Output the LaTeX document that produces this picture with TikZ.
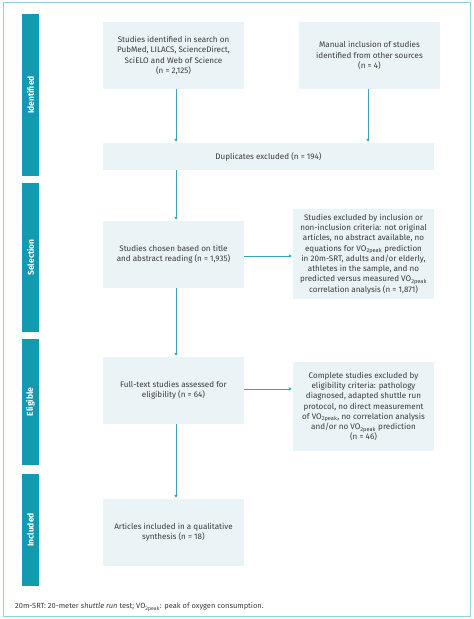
\documentclass[tikz,border=0pt]{standalone}
\usepackage{fontspec}
\setmainfont{Fira Sans}
\usetikzlibrary{arrows.meta}
\definecolor{barteal}{HTML}{1399B0}
\definecolor{frameteal}{HTML}{8CD2D8}
\definecolor{boxfill}{HTML}{EAF4F7}
\definecolor{arrowteal}{HTML}{3AA6B4}
\definecolor{txt}{HTML}{3A3A3A}
\begin{document}
\begin{tikzpicture}[x=1bp,y=-1bp,
  box/.style={fill=boxfill, draw=none, minimum width=141bp, align=center, inner sep=0pt, font=\fontsize{8.1}{10.3}\selectfont, text=txt},
  bar/.style={fill=barteal, draw=none, rotate=90, minimum height=17bp, inner sep=0pt, text=white, font=\fontsize{8.5}{9}\selectfont\bfseries},
  arr/.style={draw=arrowteal, line width=0.8bp, -{Triangle[width=3.2bp,length=3bp]}, shorten >=1bp}]
\useasboundingbox (0,0) rectangle (474,619);
\draw[frameteal, line width=1bp] (3,3) rectangle (470,616);
% phase bars
\node[bar, minimum width=162bp] (bid) at (30.5,95) {Identified};
\node[bar, minimum width=149bp] (bsel) at (30.5,257.5) {Selection};
\node[bar, minimum width=126bp] (belig) at (30.5,402) {Eligible};
\node[bar, minimum width=112bp] (binc) at (30.5,530) {Included};
% boxes
\node[box, minimum height=67bp] (b1) at (173.5,55.5) {Studies identified in search on\\PubMed, LILACS, ScienceDirect,\\SciELO and Web of Science\\(n = 2,125)};
\node[box, minimum height=67bp] (b2) at (369.5,55.5) {Manual inclusion of studies\\identified from other sources\\(n = 4)};
\node[box, minimum width=331bp, minimum height=27bp] (dup) at (268.5,156.5) {Duplicates excluded (n = 194)};
\node[box, minimum height=67bp] (sel) at (173.5,254.5) {Studies chosen based on title\\and abstract reading (n = 1,935)};
\node[box, minimum height=90bp] (ex1) at (363.5,254) {Studies excluded by inclusion or\\non-inclusion criteria: not original\\articles, no abstract available, no\\equations for VO\textsubscript{2peak} prediction\\in 20m-SRT, adults and/or elderly,\\athletes in the sample, and no\\predicted versus measured VO\textsubscript{2peak}\\correlation analysis (n = 1,871)};
\node[box, minimum height=67bp] (elig) at (173.5,390.5) {Full-text studies assessed for\\eligibility (n = 64)};
\node[box, minimum height=89bp] (ex2) at (363.5,406.5) {Complete studies excluded by\\eligibility criteria: pathology\\diagnosed, adapted shuttle run\\protocol, no direct measurement\\of VO\textsubscript{2peak}, no correlation analysis\\and/or no VO\textsubscript{2peak} prediction\\(n = 46)};
\node[box, minimum height=67bp] (inc) at (173.5,532.5) {Articles included in a qualitative\\synthesis (n = 18)};
% arrows
\draw[arr] ([xshift=2.5bp]b1.south) -- ([xshift=2.5bp]b1.south |- dup.north);
\draw[arr] ([xshift=-1.5bp]b2.south) -- ([xshift=-1.5bp]b2.south |- dup.north);
\draw[arr] ([xshift=2.5bp]dup.south -| b1.south) -- ([xshift=2.5bp]sel.north);
\draw[arr] ([xshift=2.5bp]sel.south) -- ([xshift=2.5bp]elig.north);
\draw[arr] ([xshift=2.5bp]elig.south) -- ([xshift=2.5bp]inc.north);
\draw[arr] ([yshift=-1.5bp]sel.east) -- ([yshift=-1.5bp]sel.east -| ex1.west);
\draw[arr] ([yshift=1.5bp]elig.east) -- ([yshift=1.5bp]elig.east -| ex2.west);
% footnote
\node[anchor=west, inner sep=0pt, text=txt, font=\fontsize{7.5}{8}\selectfont] (fn) at (15,607) {20m-SRT: 20-meter \textit{shuttle run} test; VO\textsubscript{2peak}: peak of oxygen consumption.};
\end{tikzpicture}
\end{document}
